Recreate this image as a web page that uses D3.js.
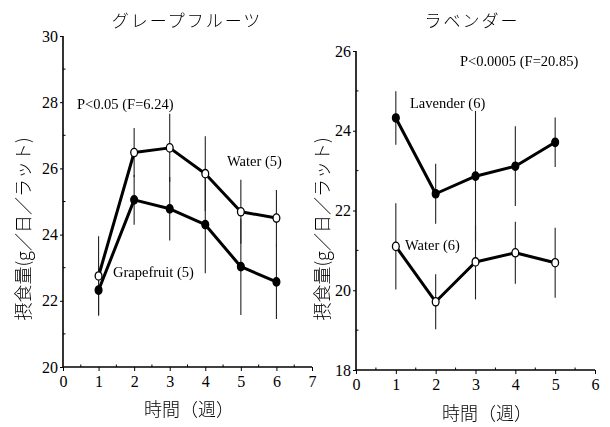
<!DOCTYPE html>
<html>
<head>
<meta charset="utf-8">
<script src="https://cdn.jsdelivr.net/npm/d3@7/dist/d3.min.js"></script>
<style>
  html, body { margin: 0; padding: 0; background: #fff; }
  svg { display: block; }
</style>
</head>
<body>
<svg id="chart" width="610" height="427"></svg>
<script>
// Grapefruit panel: weekly food intake (g/day/rat), mean and error
const weeksGF = [1, 2, 3, 4, 5, 6];
const waterGF = [22.75, 26.48, 26.62, 25.84, 24.69, 24.5];
const waterGFErr = [1.2, 0.74, 1.03, 1.13, 0.97, 0.85];
const grapefruitGF = [22.32, 25.05, 24.78, 24.3, 23.03, 22.57];
const grapefruitGFErr = [0.75, 0.75, 0.96, 1.47, 1.46, 1.12];
const xTicksGF = [0, 1, 2, 3, 4, 5, 6, 7];
const yTicksGF = [20, 22, 24, 26, 28, 30];

// Lavender panel
const weeksLav = [1, 2, 3, 4, 5];
const lavenderLav = [24.32, 22.42, 22.86, 23.11, 23.71];
const lavenderLavErr = [0.67, 0.75, 1.64, 1.0, 0.62];
const waterLav = [21.1, 19.71, 20.71, 20.94, 20.69];
const waterLavErr = [1.08, 0.69, 0.94, 0.78, 0.88];
const xTicksLav = [0, 1, 2, 3, 4, 5, 6];
const yTicksLav = [18, 20, 22, 24, 26];

const SERIF = "'Liberation Serif', 'Times New Roman', serif";
const JP = "'Noto Sans CJK JP', sans-serif";

const svg = d3.select("#chart");

// grayscale filter keeps the CJK glyph edges neutral
svg.append("defs").append("filter").attr("id", "mono")
  .append("feColorMatrix").attr("type", "saturate").attr("values", 0);

function panel(cfg) {
  const x = d3.scaleLinear().domain(cfg.xDomain).range(cfg.xRange);
  const y = d3.scaleLinear().domain(cfg.yDomain).range(cfg.yRange);
  const g = svg.append("g");

  // x axis with minor ticks at half weeks
  const xAxis = g.append("g").attr("transform", `translate(0,${cfg.yRange[0]})`)
    .call(d3.axisBottom(x).tickValues(cfg.xTicks).tickSize(4).tickPadding(5).tickFormat(d3.format("d")));
  xAxis.attr("font-family", SERIF).attr("font-size", 16);
  xAxis.selectAll("text").attr("font-family", SERIF);
  xAxis.select(".domain").attr("stroke-width", 1.6).attr("d", `M${cfg.xRange[0]},0H${cfg.xRange[1]}`);
  const xMinor = d3.range(cfg.xDomain[0] + 0.5, cfg.xDomain[1], 1);
  g.selectAll(null).data(xMinor).join("line")
    .attr("x1", d => x(d)).attr("x2", d => x(d))
    .attr("y1", cfg.yRange[0]).attr("y2", cfg.yRange[0] - 2.5)
    .attr("stroke", "#000").attr("stroke-width", 1);

  // y axis with minor ticks at odd values
  const yAxis = g.append("g").attr("transform", `translate(${cfg.xRange[0]},0)`)
    .call(d3.axisLeft(y).tickValues(cfg.yTicks).tickSize(3).tickPadding(2).tickFormat(d3.format("d")));
  yAxis.attr("font-family", SERIF).attr("font-size", 16);
  yAxis.selectAll("text").attr("font-family", SERIF);
  yAxis.select(".domain").attr("stroke-width", 1.6).attr("d", `M0,${cfg.yRange[0]}V${cfg.yRange[1]}`);
  const yMinor = d3.range(cfg.yDomain[0] + 1, cfg.yDomain[1], 2);
  g.selectAll(null).data(yMinor).join("line")
    .attr("x1", cfg.xRange[0]).attr("x2", cfg.xRange[0] + 2.5)
    .attr("y1", d => y(d)).attr("y2", d => y(d))
    .attr("stroke", "#000").attr("stroke-width", 1);

  const line = d3.line().x(d => x(d.w)).y(d => y(d.v));

  cfg.series.forEach(s => {
    const pts = cfg.weeks.map((w, i) => ({ w, v: s.values[i], e: s.err[i] }));
    g.selectAll(null).data(pts).join("line")
      .attr("x1", d => x(d.w)).attr("x2", d => x(d.w))
      .attr("y1", d => y(d.v - d.e)).attr("y2", d => y(d.v + d.e))
      .attr("stroke", "#222").attr("stroke-width", 1.1);
    s.pts = pts;
  });
  cfg.series.forEach(s => {
    g.append("path").datum(s.pts).attr("d", line)
      .attr("fill", "none").attr("stroke", "#000").attr("stroke-width", 3)
      .attr("stroke-linejoin", "round");
  });
  cfg.series.forEach(s => {
    g.selectAll(null).data(s.pts).join("ellipse")
      .attr("cx", d => x(d.w)).attr("cy", d => y(d.v))
      .attr("rx", 3.4).attr("ry", 4.2)
      .attr("fill", s.open ? "#fff" : "#000")
      .attr("stroke", "#000").attr("stroke-width", 1.3);
  });

  // titles and labels
  const jp = g.append("g").attr("font-family", JP).attr("fill", "#000").attr("filter", "url(#mono)");
  jp.append("text").attr("x", cfg.titleX).attr("y", 27)
    .attr("text-anchor", "middle").attr("font-size", 17).attr("letter-spacing", 2)
    .attr("font-weight", 300).text(cfg.title);
  jp.append("text").attr("x", cfg.xLabelX).attr("y", cfg.xLabelY)
    .attr("text-anchor", "middle").attr("font-size", 18).attr("font-weight", 300)
    .text("時間（週）");
  jp.append("text")
    .attr("transform", `translate(${cfg.yLabelX},${cfg.yLabelY}) rotate(-90)`)
    .attr("text-anchor", "middle").attr("font-size", 18).attr("font-weight", 300)
    .text("摂食量(g／日／ラット)");
  cfg.notes.forEach(n => {
    g.append("text").attr("font-family", SERIF).attr("x", n.x).attr("y", n.y)
      .attr("font-size", 14.5).text(n.text);
  });
}

panel({
  xDomain: [0, 7], xRange: [63, 312],
  yDomain: [20, 30], yRange: [367, 36],
  xTicks: xTicksGF, yTicks: yTicksGF, weeks: weeksGF,
  series: [
    { values: grapefruitGF, err: grapefruitGFErr, open: false },
    { values: waterGF, err: waterGFErr, open: true }
  ],
  title: "グレープフルーツ", titleX: 187,
  xLabelX: 189, xLabelY: 416,
  yLabelX: 30, yLabelY: 229,
  notes: [
    { text: "P<0.05 (F=6.24)", x: 77, y: 109 },
    { text: "Water (5)", x: 227, y: 166 },
    { text: "Grapefruit (5)", x: 113, y: 277 }
  ]
});

panel({
  xDomain: [0, 6], xRange: [356, 595],
  yDomain: [18, 26], yRange: [370, 51],
  xTicks: xTicksLav, yTicks: yTicksLav, weeks: weeksLav,
  series: [
    { values: lavenderLav, err: lavenderLavErr, open: false },
    { values: waterLav, err: waterLavErr, open: true }
  ],
  title: "ラベンダー", titleX: 472,
  xLabelX: 487, xLabelY: 420,
  yLabelX: 329, yLabelY: 229,
  notes: [
    { text: "P<0.0005 (F=20.85)", x: 460, y: 66 },
    { text: "Lavender (6)", x: 410, y: 108 },
    { text: "Water (6)", x: 405, y: 250 }
  ]
});
</script>
</body>
</html>
